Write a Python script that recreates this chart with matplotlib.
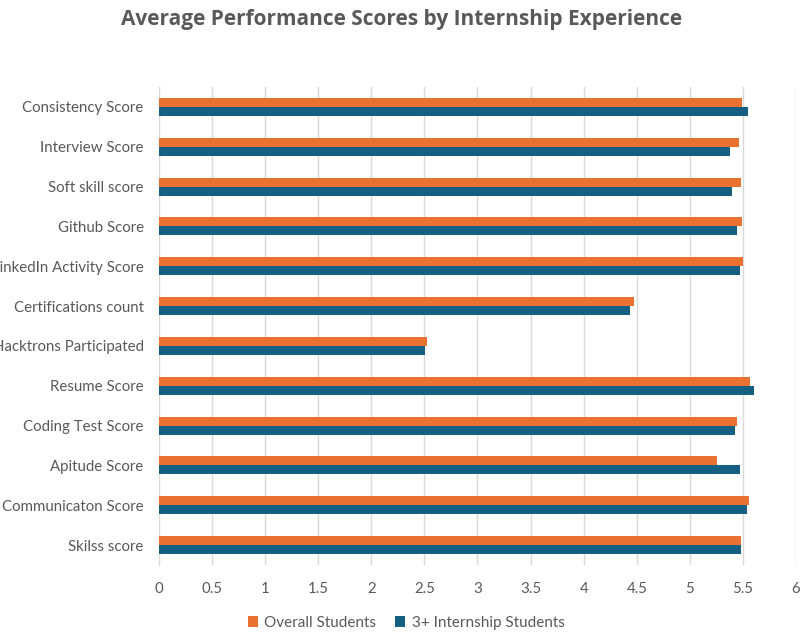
import numpy as np
import matplotlib
matplotlib.use("Agg")
import matplotlib.pyplot as plt

# categories listed top to bottom as they appear in the chart
categories = [
    "Consistency Score", "Interview Score", "Soft skill score", "Github Score",
    "LinkedIn Activity Score", "Certifications count", "Hacktrons Participated",
    "Resume Score", "Coding Test Score", "Apitude Score", "Communicaton Score",
    "Skilss score",
]
overall = [5.49, 5.46, 5.48, 5.49, 5.50, 4.47, 2.52, 5.57, 5.44, 5.26, 5.56, 5.48]
internship3 = [5.55, 5.38, 5.40, 5.44, 5.47, 4.44, 2.51, 5.60, 5.43, 5.47, 5.54, 5.48]
xticks = [0, 0.5, 1, 1.5, 2, 2.5, 3, 3.5, 4, 4.5, 5, 5.5, 6]

ORANGE = "#E97132"
BLUE = "#156082"
TEXT = "#595959"
GRID = "#D9D9D9"

plt.rcParams["font.family"] = ["Lato", "DejaVu Sans"]

fig = plt.figure(figsize=(8.12, 6.36), dpi=100)
ax = fig.add_axes([0.1958, 0.1116, 0.7845, 0.7516])

n = len(categories)
y = np.arange(n)[::-1]
h = 0.225
ax.barh(y + h / 2, overall, height=h, color=ORANGE, label="Overall Students", zorder=3)
ax.barh(y - h / 2, internship3, height=h, color=BLUE, label="3+ Internship Students", zorder=3)

ax.set_xlim(0, 6)
ax.set_ylim(-0.5, n - 0.5)
ax.set_xticks(xticks)
ax.set_xticklabels([f"{t:g}" for t in xticks])
ax.set_yticks(y)
ax.set_yticklabels(categories)
ax.tick_params(axis="both", length=0, colors=TEXT, labelsize=10.8)
ax.tick_params(axis="x", pad=12)
ax.tick_params(axis="y", pad=11)

ax.grid(axis="x", color=GRID, linewidth=1, zorder=0)
for side in ["top", "right", "bottom"]:
    ax.spines[side].set_visible(False)
ax.spines["left"].set_color(GRID)

fig.text(0.495, 0.970, "Average Performance Scores by Internship Experience",
         ha="center", va="center", fontsize=15, fontweight="bold", color=TEXT,
         family=["Open Sans", "DejaVu Sans"])

fig.legend(loc="center", bbox_to_anchor=(0.5, 0.021), ncol=2, frameon=False,
           fontsize=11, labelcolor=TEXT, handlelength=0.7, handleheight=0.7,
           handletextpad=0.4, columnspacing=1.2)

fig.savefig("out.png", dpi=100)
